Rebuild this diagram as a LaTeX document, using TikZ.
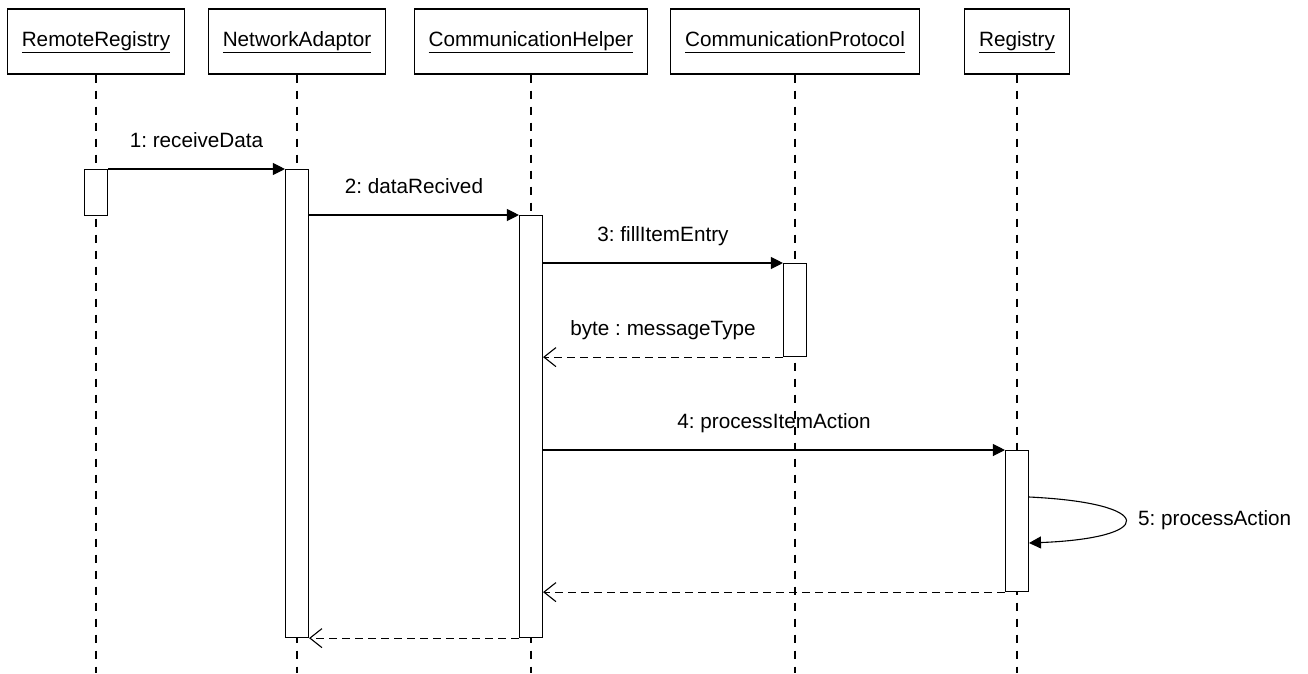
\documentclass[tikz,border=0pt]{standalone}
\usepackage{fontspec}
\setmainfont{Liberation Sans}
\usetikzlibrary{arrows.meta}
\frenchspacing

\newcommand{\objname}[1]{\underline{\vphantom{y}#1}}

\tikzset{
  lbl/.style={font=\fontsize{20.7}{25}\selectfont, inner sep=0pt},
  objbox/.style={lbl, draw, line width=1.1pt, minimum height=65pt, inner xsep=14.5pt,
    text height=18pt, text depth=8pt},
  act/.style={draw, fill=white, line width=1.1pt, minimum width=23pt, inner sep=0pt, anchor=north},
  lifeline/.style={line width=1.1pt, dash pattern=on 8pt off 8pt},
  call/.style={line width=1.1pt, -{Triangle[length=12pt,width=12pt]}},
  reply/.style={line width=1.1pt, dash pattern=on 8pt off 5pt, -{Straight Barb[length=12pt,width=19pt,line width=1.1pt]}},
  msg/.style={lbl, midway, anchor=base, yshift=22pt}
}

\begin{document}
\begin{tikzpicture}[x=1pt,y=-1pt]
  \useasboundingbox (0,0) rectangle (1308,673);
  \coordinate (bot) at (0,673);

  % objects
  \node[objbox] (rr) at (96,41.5)   {\objname{RemoteRegistry}};
  \node[objbox] (na) at (297,41.5)  {\objname{NetworkAdaptor}};
  \node[objbox] (ch) at (531,41.5)  {\objname{CommunicationHelper}};
  \node[objbox] (cp) at (795,41.5)  {\objname{CommunicationProtocol}};
  \node[objbox] (rg) at (1017,41.5) {\objname{Registry}};

  % lifelines
  \foreach \o in {rr,na,ch,cp,rg}
    \draw[lifeline] (\o.south) -- (\o.south |- bot);

  % activations
  \node[act, minimum height=46pt]  (rra) at (96,169)   {};
  \node[act, minimum height=468pt] (naa) at (297,169)  {};
  \node[act, minimum height=422pt] (cha) at (531,215)  {};
  \node[act, minimum height=93pt]  (cpa) at (795,263)  {};
  \node[act, minimum height=141pt] (rga) at (1017,450) {};

  % messages
  \draw[call] (rra.north east) -- (naa.north west) node[msg] (m1) {1: receiveData};
  \draw[call] (cha.north west -| naa.east) -- (cha.north west) node[msg] (m2) {2: dataRecived};
  \draw[call] (cpa.north west -| cha.east) -- (cpa.north west) node[msg] (m3) {3: fillItemEntry};
  \draw[reply] (cpa.south west) -- (cpa.south west -| cha.east) node[msg] (r3) {byte : messageType};
  \draw[call] (rga.north west -| cha.east) -- (rga.north west) node[msg] (m4) {4: processItemAction};

  % self call
  \coordinate (s0) at (1029,497);
  \coordinate (s1) at (1029,543);
  \draw[call] (s0) .. controls (1157,503) and (1157,538) .. (s1);
  \node[lbl, anchor=west] (m5) at (1138,520) {5: processAction};

  \draw[reply] (rga.south west) -- (rga.south west -| cha.east);
  \draw[reply] (cha.south west) -- (cha.south west -| naa.east);
\end{tikzpicture}
\end{document}
